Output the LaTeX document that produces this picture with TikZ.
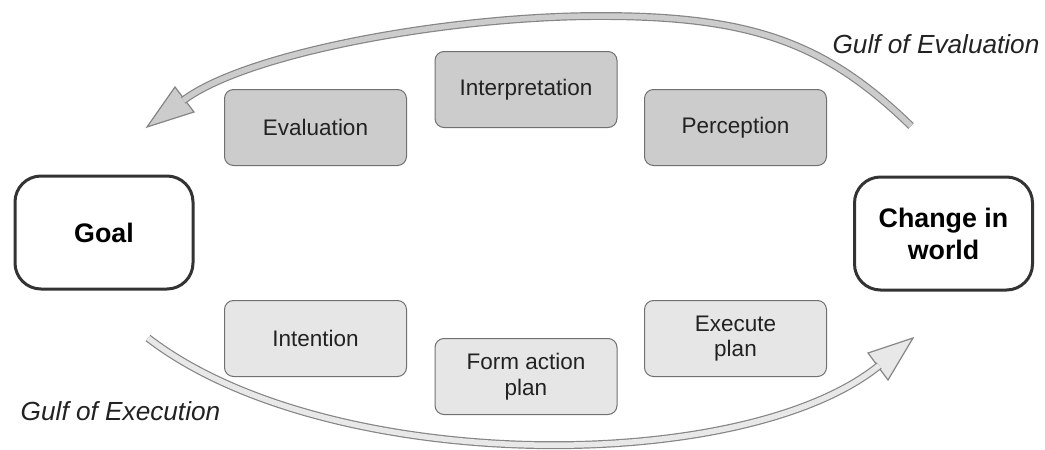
\documentclass[tikz,border=0pt]{standalone}
\usepackage{fontspec}
\setmainfont{Liberation Sans}
\definecolor{topfill}{HTML}{CCCCCC}
\definecolor{botfill}{HTML}{E6E6E6}
\definecolor{boxline}{HTML}{707070}
\definecolor{darkline}{HTML}{333333}
\definecolor{textgray}{HTML}{222222}
\definecolor{arrowline}{HTML}{858585}
\definecolor{arrowtop}{HTML}{CCCCCC}
\definecolor{arrowbot}{HTML}{E8E8E8}
\begin{document}
\begin{tikzpicture}[x=1pt,y=-1pt,
  stage/.style={draw=boxline, line width=1pt, rounded corners=9pt,
    minimum width=182pt, minimum height=76pt, inner sep=0pt, align=center,
    text=textgray, font=\fontsize{22.5}{25.5}\selectfont},
  endbox/.style={draw=darkline, line width=3pt, fill=white, rounded corners=26pt,
    minimum width=178pt, minimum height=113pt, inner sep=0pt, align=center,
    text=black, font=\bfseries\fontsize{26.8}{32}\selectfont},
  gulf/.style={font=\itshape\fontsize{26.2}{30}\selectfont, text=textgray,
    inner sep=0pt, anchor=base},
  shafttop/.style={draw=arrowline, line width=1.2pt, double=arrowtop, double distance=5.5pt},
  shaftbot/.style={draw=arrowline, line width=1.2pt, double=arrowbot, double distance=5.5pt},
  headtop/.style={draw=arrowline, line width=1.2pt, fill=arrowtop, line join=miter},
  headbot/.style={draw=arrowline, line width=1.2pt, fill=arrowbot, line join=miter}]
\useasboundingbox (0,0) rectangle (1045,450);

% stages
\node[stage, fill=topfill] (eval)   at (315.5,127.5) {Evaluation};
\node[stage, fill=topfill] (interp) at (526,89.5)    {Interpretation};
\node[stage, fill=topfill] (perc)   at (735.5,127.5) {Perception};
\node[stage, fill=botfill] (intent) at (315.5,338.5) {Intention};
\node[stage, fill=botfill] (form)   at (526,376.5)   {Form action\\plan};
\node[stage, fill=botfill] (exec)   at (735.5,338.5) {Execute\\plan};

% end boxes
\node[endbox] (goal)  at (104,232.5)   {Goal};
\node[endbox] (world) at (943.5,233.5) {Change in\\world};

% labels
\node[gulf] (gev) at (936,53)   {Gulf of Evaluation};
\node[gulf] (gex) at (120.5,420) {Gulf of Execution};

% gulf of evaluation arrow
\coordinate (evtail) at (911,126);
\coordinate (evpeak) at (600,16);
\coordinate (evbase) at (183.3,100.4);
\coordinate (evtip)  at (147,127);
\coordinate (evw1)   at (175,87);
\coordinate (evw2)   at (194,112);
\filldraw[headtop] (evtip) -- (evw1) -- (evw2) -- cycle;
\draw[shafttop] (evtail) .. controls (825,42) and (750,16) .. (evpeak)
  .. controls (450,16) and (247.3,52.4) .. (evbase);

% gulf of execution arrow
\coordinate (extail) at (148,338);
\coordinate (exbase) at (879.2,365.5);
\coordinate (extip)  at (913,338);
\coordinate (exw1)   at (868,353);
\coordinate (exw2)   at (888,380);
\filldraw[headbot] (extip) -- (exw1) -- (exw2) -- cycle;
\draw[shaftbot] (extail) .. controls (325.75,475.25) and (742.4,476.6) .. (exbase);
\end{tikzpicture}
\end{document}
